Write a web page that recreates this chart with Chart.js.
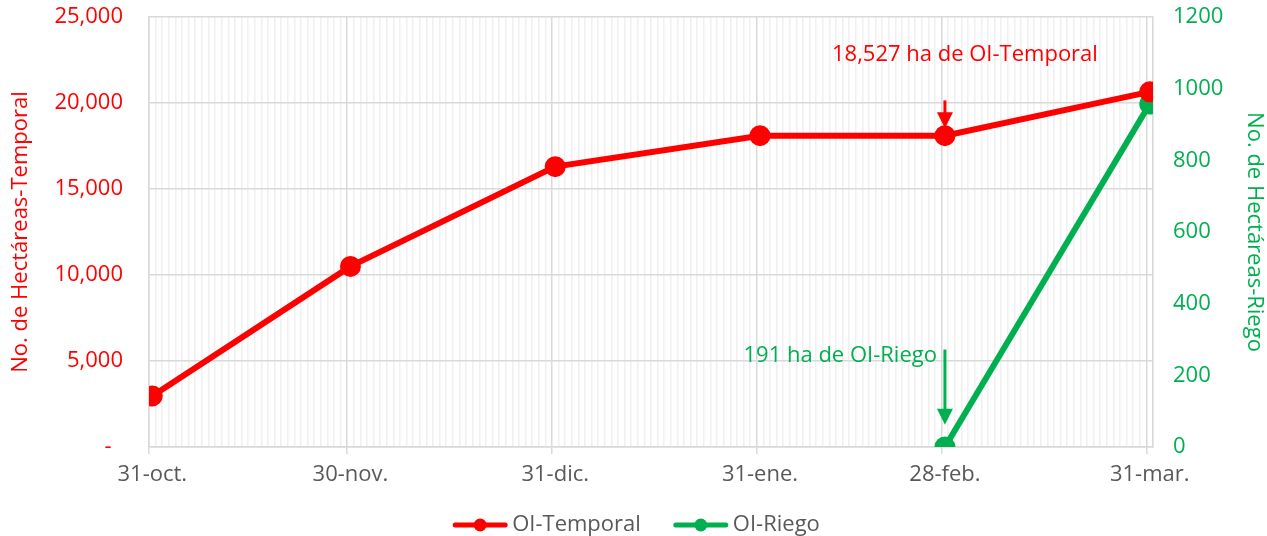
<!DOCTYPE html>
<html>
<head>
<meta charset="utf-8">
<script src="https://cdn.jsdelivr.net/npm/chart.js@4"></script>
<style>
  html, body { margin: 0; padding: 0; background: #fff; }
  #wrap { width: 1267px; height: 536px; }
</style>
</head>
<body>
<div id="wrap"><canvas id="chart"></canvas></div>
<script>
// categories (day index from 31-oct) and labels
const dateLabels = ['31-oct.', '30-nov.', '31-dic.', '31-ene.', '28-feb.', '31-mar.'];
const dayIndex = [0, 30, 61, 92, 120, 151];
// series values
const temporal = [2970, 10500, 16300, 18100, 18100, 20650];
const riego = [null, null, null, null, 0, 957];
// axis ticks
const leftTicks = [0, 5000, 10000, 15000, 20000, 25000];
const rightTicks = [0, 200, 400, 600, 800, 1000, 1200];
// annotation texts
const noteTemporal = '18,527 ha de OI-Temporal';
const noteRiego = '191 ha de OI-Riego';

const RED = '#FF0000';
const GREEN = '#00B050';
const GRAY_TXT = '#595959';
const FONT = "'Open Sans', sans-serif";
const FS = 22;

const allDays = [];
for (let d = 0; d <= 151; d++) allDays.push(d);

function arrow(ctx, x, y0, y1, color) {
    ctx.strokeStyle = color; ctx.fillStyle = color; ctx.lineWidth = 3;
    ctx.beginPath(); ctx.moveTo(x, y0); ctx.lineTo(x, y1 - 12); ctx.stroke();
    ctx.beginPath(); ctx.moveTo(x - 8, y1 - 16); ctx.lineTo(x + 8, y1 - 16); ctx.lineTo(x, y1); ctx.closePath(); ctx.fill();
}

const notes = {
    id: 'notes',
    afterDatasetsDraw(chart) {
        const ctx = chart.ctx;
        const xs = chart.scales.x, yl = chart.scales.y, yr = chart.scales.y1;
        const xFeb = xs.getPixelForValue(dayIndex[4]);
        ctx.save();
        ctx.font = FS + 'px ' + FONT;
        ctx.textBaseline = 'middle';
        // red note
        ctx.fillStyle = RED; ctx.textAlign = 'center';
        ctx.fillText(noteTemporal, xFeb + 20, yl.getPixelForValue(22800));
        arrow(ctx, xFeb, yl.getPixelForValue(20150), yl.getPixelForValue(18527), RED);
        // green note
        ctx.fillStyle = GREEN; ctx.textAlign = 'right';
        ctx.fillText(noteRiego, xFeb - 8, yr.getPixelForValue(255));
        arrow(ctx, xFeb, yr.getPixelForValue(272), yr.getPixelForValue(62), GREEN);
        ctx.restore();
    }
};

// legend drawn by hand: line with a dot, then the series name
const lineLegend = {
    id: 'lineLegend',
    afterDraw(chart) {
        const ctx = chart.ctx;
        const items = chart.data.datasets.map(ds => ({ text: ds.label, color: ds.borderColor }));
        ctx.save();
        ctx.font = FS + 'px ' + FONT;
        ctx.textBaseline = 'middle';
        const iconW = 56, gap = 4, spacing = 32;
        let total = 0;
        items.forEach((it, i) => {
            it.w = ctx.measureText(it.text).width;
            total += iconW + gap + it.w + (i ? spacing : 0);
        });
        let x = 636 - total / 2;
        const y = chart.height - 11;
        items.forEach(it => {
            ctx.strokeStyle = it.color; ctx.fillStyle = it.color;
            ctx.lineWidth = 5; ctx.lineCap = 'round';
            ctx.beginPath(); ctx.moveTo(x + 3, y); ctx.lineTo(x + iconW - 3, y); ctx.stroke();
            ctx.beginPath(); ctx.arc(x + iconW / 2, y, 6.5, 0, Math.PI * 2); ctx.fill();
            ctx.fillStyle = GRAY_TXT; ctx.textAlign = 'left';
            ctx.fillText(it.text, x + iconW + gap, y);
            x += iconW + gap + it.w + spacing;
        });
        ctx.restore();
    }
};

function fixPad(s) { s.paddingTop = 17; s.paddingBottom = 0; }

const ctx = document.getElementById('chart').getContext('2d');
new Chart(ctx, {
    type: 'line',
    data: {
        datasets: [{
            label: 'OI-Temporal',
            data: dayIndex.map((d, i) => ({ x: d, y: temporal[i] })),
            borderColor: RED, backgroundColor: RED,
            borderWidth: 6, pointRadius: 7.5, pointHoverRadius: 7.5,
            yAxisID: 'y', tension: 0
        }, {
            label: 'OI-Riego',
            data: dayIndex.map((d, i) => ({ x: d, y: riego[i] })).filter(p => p.y !== null),
            borderColor: GREEN, backgroundColor: GREEN,
            borderWidth: 6, pointRadius: 7.5, pointHoverRadius: 7.5,
            yAxisID: 'y1', tension: 0
        }]
    },
    options: {
        responsive: true,
        maintainAspectRatio: false,
        animation: false,
        layout: { padding: { top: 0, left: 0, right: 0, bottom: 41 } },
        scales: {
            x: {
                type: 'linear',
                min: -0.5, max: 151.5,
                afterBuildTicks: s => { s.ticks = allDays.map(v => ({ value: v })); },
                afterFit: s => { s.height = 48; },
                ticks: {
                    autoSkip: false, maxRotation: 0, minRotation: 0,
                    color: GRAY_TXT, font: { family: FONT, size: FS }, padding: 8,
                    callback: v => { const i = dayIndex.indexOf(v); return i >= 0 ? dateLabels[i] : ''; }
                },
                grid: {
                    offset: true,
                    tickLength: 7,
                    color: c => (c.tick && dayIndex.includes(c.tick.value)) ? '#d9d9d9' : '#f0f0f0',
                    tickColor: c => (c.tick && dayIndex.includes(c.tick.value)) ? '#d9d9d9' : 'rgba(0,0,0,0)',
                    lineWidth: 1.5
                },
                border: { color: '#d9d9d9', width: 1.5 }
            },
            y: {
                position: 'left',
                min: 0, max: 25000,
                afterBuildTicks: s => { s.ticks = leftTicks.map(v => ({ value: v })); },
                afterFit: s => { s.width = 149; fixPad(s); },
                ticks: {
                    color: RED, font: { family: FONT, size: FS }, padding: 26,
                    callback: v => v === 0 ? '-  ' : v.toLocaleString('en-US')
                },
                title: {
                    display: true, text: 'No. de Hectáreas-Temporal', color: RED,
                    font: { family: FONT, size: FS }, padding: { top: 8, bottom: 0 }
                },
                grid: { color: '#d9d9d9', lineWidth: 1.5, drawTicks: false },
                border: { color: '#d9d9d9', width: 1.5 }
            },
            y1: {
                position: 'right',
                min: 0, max: 1200,
                afterBuildTicks: s => { s.ticks = rightTicks.map(v => ({ value: v })); },
                afterFit: s => { s.width = 114; fixPad(s); },
                ticks: {
                    color: GREEN, font: { family: FONT, size: FS }, padding: 20,
                    callback: v => String(v)
                },
                title: {
                    display: true, text: 'No. de Hectáreas-Riego', color: GREEN,
                    font: { family: FONT, size: FS }, padding: { top: 0, bottom: 6 }
                },
                grid: { drawOnChartArea: false, drawTicks: false },
                border: { color: '#d9d9d9', width: 1.5 }
            }
        },
        plugins: {
            legend: { display: false },
            tooltip: { enabled: false }
        }
    },
    plugins: [notes, lineLegend]
});
</script>
</body>
</html>
